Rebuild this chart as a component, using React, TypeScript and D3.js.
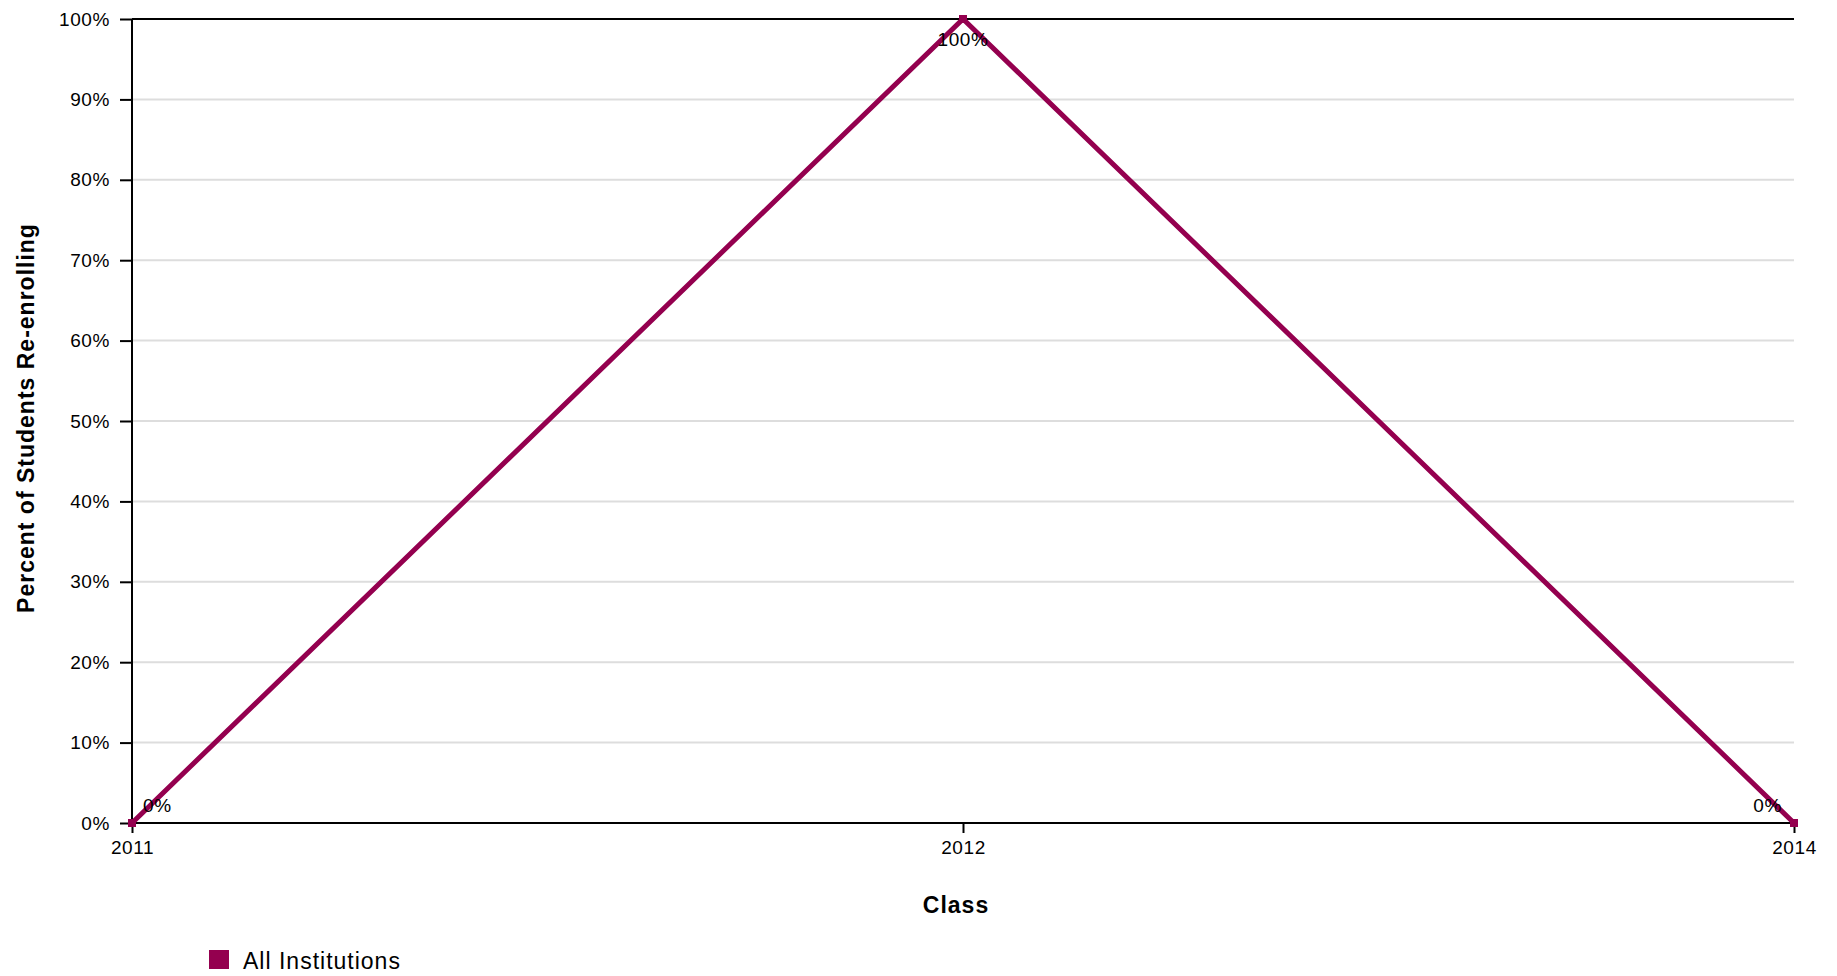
import { axisBottom, axisLeft, line, scaleLinear, scalePoint, select } from "d3";
import { FC, useEffect, useRef } from "react";

const classes = ["2011", "2012", "2014"];
const reenrollRates = [0, 1, 0];
const rateLabels = ["0%", "100%", "0%"];
const yTickValues = [0, 0.1, 0.2, 0.3, 0.4, 0.5, 0.6, 0.7, 0.8, 0.9, 1];
const seriesName = "All Institutions";

const WIDTH = 1837;
const HEIGHT = 976;
const FONT = "'Liberation Sans', Arial, Helvetica, sans-serif";
const LINE_COLOR = "#94004f";

const margin = { top: 19, right: 43, bottom: 153, left: 132 };

const LineChart: FC = () => {
  const svgRef = useRef<SVGSVGElement>(null);

  useEffect(() => {
    const svg = select(svgRef.current);
    svg.selectAll("*").remove();

    const innerW = WIDTH - margin.left - margin.right;
    const innerH = HEIGHT - margin.top - margin.bottom;

    // X scale
    const xScale = scalePoint<string>().domain(classes).range([0, innerW]).padding(0);

    // Y scale
    const yScale = scaleLinear().domain([0, 1]).range([innerH, 0]);

    const g = svg.append("g").attr("transform", `translate(${margin.left},${margin.top})`);

    // gridlines
    g.selectAll("line.grid")
      .data(yTickValues.filter((v) => v > 0 && v < 1))
      .join("line")
      .attr("class", "grid")
      .attr("x1", 0)
      .attr("x2", innerW)
      .attr("y1", (d) => yScale(d))
      .attr("y2", (d) => yScale(d))
      .attr("stroke", "#dddddd")
      .attr("stroke-width", 2);

    // top border
    g.append("line")
      .attr("x1", 0)
      .attr("x2", innerW)
      .attr("y1", 0)
      .attr("y2", 0)
      .attr("stroke", "#000")
      .attr("stroke-width", 2);

    // Y axis
    const yAxis = g
      .append("g")
      .call(
        axisLeft(yScale)
          .tickValues(yTickValues)
          .tickSize(12)
          .tickPadding(10)
          .tickFormat((d) => `${Math.round(+d * 100)}%`)
      );
    yAxis.select(".domain").attr("stroke", "#000").attr("stroke-width", 2).attr("d", `M0,0V${innerH}`);
    yAxis.selectAll(".tick line").attr("stroke", "#000").attr("stroke-width", 2);
    yAxis
      .selectAll(".tick text")
      .attr("font-family", FONT)
      .attr("font-size", 19)
      .attr("letter-spacing", 0.6)
      .attr("fill", "#000");

    // X axis
    const xAxis = g
      .append("g")
      .attr("transform", `translate(0,${innerH})`)
      .call(axisBottom(xScale).tickSize(10).tickPadding(8));
    xAxis.select(".domain").attr("stroke", "#000").attr("stroke-width", 2).attr("d", `M0,0H${innerW}`);
    xAxis.selectAll(".tick line").attr("stroke", "#000").attr("stroke-width", 2);
    xAxis
      .selectAll(".tick text")
      .attr("font-family", FONT)
      .attr("font-size", 19)
      .attr("letter-spacing", 0.6)
      .attr("fill", "#000");

    // line
    const pts = classes.map((c, i) => ({ c, v: reenrollRates[i], label: rateLabels[i] }));
    const path = line<{ c: string; v: number }>()
      .x((d) => xScale(d.c)!)
      .y((d) => yScale(d.v));

    g.append("path")
      .datum(pts)
      .attr("d", path)
      .attr("fill", "none")
      .attr("stroke", LINE_COLOR)
      .attr("stroke-width", 5)
      .attr("stroke-linejoin", "miter");

    // markers
    g.selectAll("rect.marker")
      .data(pts)
      .join("rect")
      .attr("class", "marker")
      .attr("x", (d) => xScale(d.c)! - 4)
      .attr("y", (d) => yScale(d.v) - 4)
      .attr("width", 8)
      .attr("height", 8)
      .attr("fill", LINE_COLOR);

    // value labels
    g.selectAll("text.value")
      .data(pts)
      .join("text")
      .attr("class", "value")
      .attr("x", (d, i) => xScale(d.c)! + (i === 0 ? 11 : i === pts.length - 1 ? -12 : 0))
      .attr("y", (d) => Math.max(yScale(d.v) - 11, 27))
      .attr("text-anchor", (d, i) => (i === 0 ? "start" : i === pts.length - 1 ? "end" : "middle"))
      .attr("font-family", FONT)
      .attr("font-size", 19)
      .attr("letter-spacing", 0.6)
      .attr("fill", "#000")
      .text((d) => d.label);

    // axis titles
    svg
      .append("text")
      .attr("x", 956)
      .attr("y", 913)
      .attr("text-anchor", "middle")
      .attr("font-family", FONT)
      .attr("font-size", 23)
      .attr("font-weight", "bold")
      .attr("letter-spacing", 1)
      .text("Class");

    svg
      .append("text")
      .attr("transform", "translate(34,418) rotate(-90)")
      .attr("text-anchor", "middle")
      .attr("font-family", FONT)
      .attr("font-size", 23)
      .attr("font-weight", "bold")
      .attr("letter-spacing", 1)
      .text("Percent of Students Re-enrolling");

    // legend
    const legend = svg.append("g").attr("transform", "translate(209,950)");
    legend.append("rect").attr("width", 20).attr("height", 19).attr("fill", LINE_COLOR);
    legend
      .append("text")
      .attr("x", 34)
      .attr("y", 19)
      .attr("font-family", FONT)
      .attr("font-size", 23)
      .attr("letter-spacing", 1)
      .attr("fill", "#000")
      .text(seriesName);
  }, []);

  return (
    <svg
      ref={svgRef}
      width={WIDTH}
      height={HEIGHT}
      style={{ position: "absolute", left: 0, top: 0, background: "#fff" }}
    ></svg>
  );
};

export default function App() {
  return <LineChart />;
}
